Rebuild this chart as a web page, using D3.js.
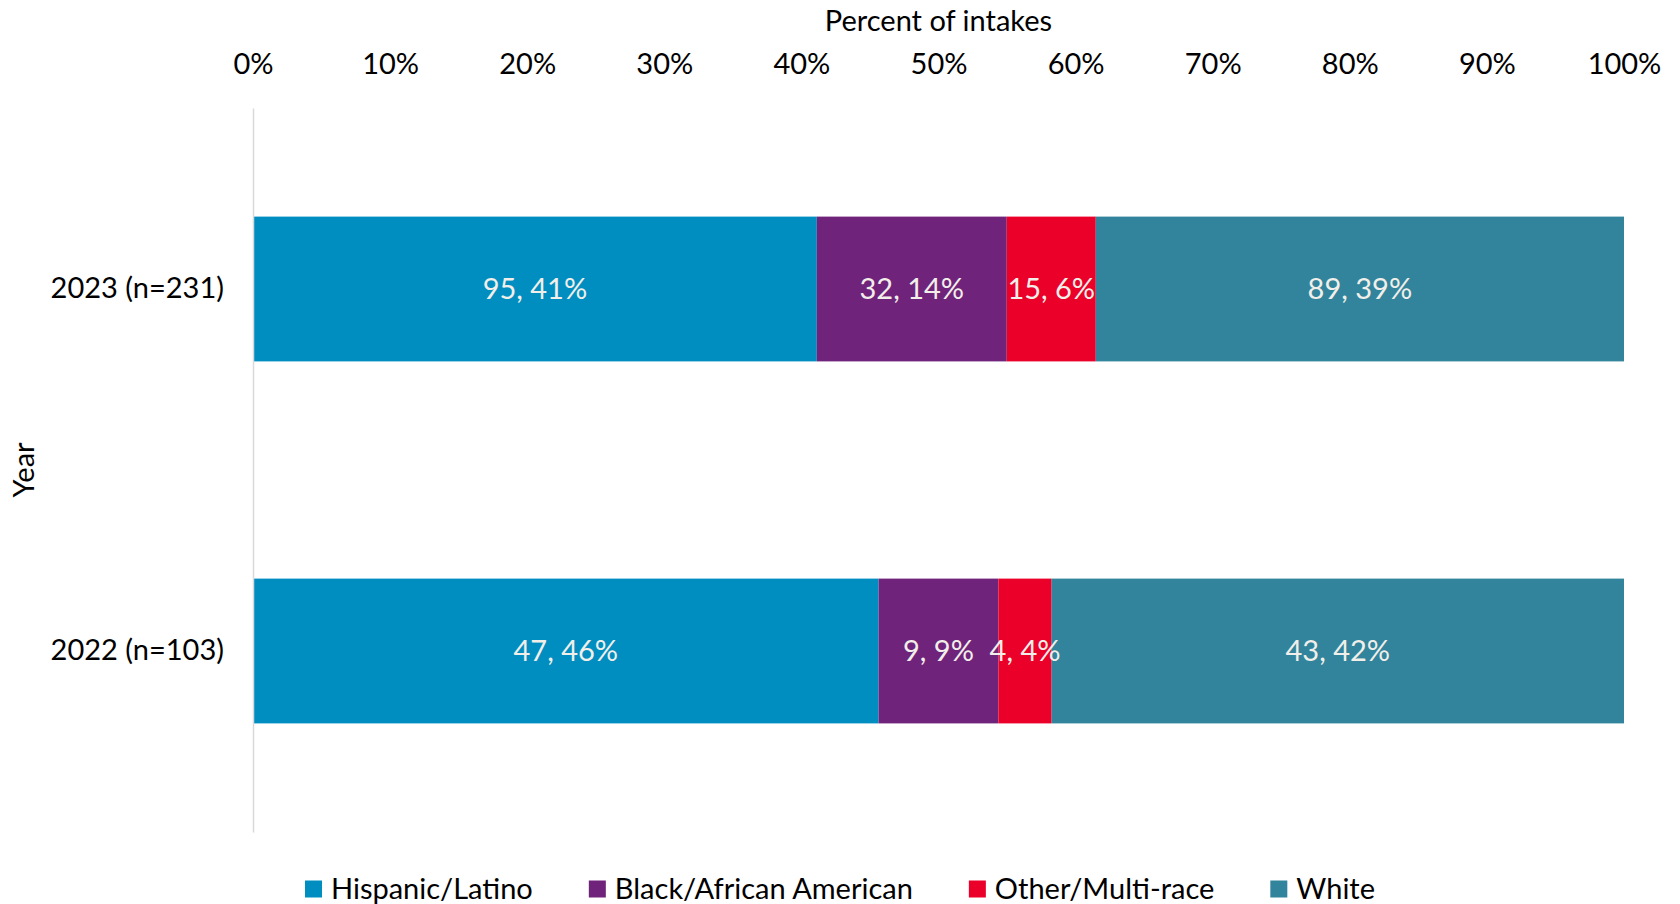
<!DOCTYPE html>
<html>
<head>
<meta charset="utf-8">
<script src="https://cdn.jsdelivr.net/npm/d3@7"></script>
<style>
  html, body { margin: 0; padding: 0; background: #fff; }
  svg { display: block; font-family: Lato, "Open Sans", sans-serif; }
</style>
</head>
<body>
<svg id="chart" width="1680" height="904"></svg>
<script>
// ---- Data ----
const years = ["2023 (n=231)", "2022 (n=103)"];
const seriesNames = ["Hispanic/Latino", "Black/African American", "Other/Multi-race", "White"];
const hispanic = [95, 47];
const black = [32, 9];
const other = [15, 4];
const white = [89, 43];
const colors = ["#008EC0", "#70237A", "#EA0029", "#31849B"];
const xTicks = [0, 0.1, 0.2, 0.3, 0.4, 0.5, 0.6, 0.7, 0.8, 0.9, 1.0];

(function () {
const seriesValues = [hispanic, black, other, white];

// ---- Layout ----
const W = 1680;
const mLeft = 253, mRight = 1624, mTop = 108, mBottom = 832;
const FS = 29;

const svg = d3.select("#chart");

const x = d3.scaleLinear().domain([0, 1]).range([mLeft, mRight]);
const y = d3.scaleBand().domain(years).range([mTop, mBottom]).paddingInner(0.6).paddingOuter(0.3);

// build stacked rows
const rows = years.map((yr, i) => {
  const row = { year: yr };
  let total = 0;
  seriesNames.forEach((s, k) => { row[s] = seriesValues[k][i]; total += seriesValues[k][i]; });
  row.total = total;
  seriesNames.forEach(s => { row[s + "_p"] = row[s] / total; });
  return row;
});

const stacked = d3.stack().keys(seriesNames.map(s => s + "_p"))(rows);

// bars
const g = svg.append("g");
stacked.forEach((layer, k) => {
  g.append("g").attr("fill", colors[k])
    .selectAll("rect").data(layer).join("rect")
    .attr("x", d => x(d[0]))
    .attr("width", d => x(d[1]) - x(d[0]))
    .attr("y", d => y(d.data.year))
    .attr("height", y.bandwidth());
});

// labels
stacked.forEach((layer, k) => {
  const name = seriesNames[k];
  g.append("g").selectAll("text").data(layer).join("text")
    .attr("x", d => (x(d[0]) + x(d[1])) / 2)
    .attr("y", d => y(d.data.year) + y.bandwidth() / 2)
    .attr("dy", "0.36em")
    .attr("text-anchor", "middle")
    .attr("fill", "#F2EFEA")
    .style("font-size", FS + "px")
    .text(d => d.data[name] + ", " + Math.round(d.data[name + "_p"] * 100) + "%");
});

// top axis
const xAxis = d3.axisTop(x).tickValues(xTicks).tickSize(0).tickPadding(0)
  .tickFormat(d3.format(".0%"));
const xa = svg.append("g").attr("transform", "translate(0,64)").call(xAxis);
xa.select(".domain").remove();
xa.selectAll("text").attr("dy", "0.36em").attr("fill", "#000").style("font-size", FS + "px")
  .style("font-family", "Lato, 'Open Sans', sans-serif");

// left axis
const yAxis = d3.axisLeft(y).tickSize(0).tickSizeOuter(0).tickPadding(29);
const ya = svg.append("g").attr("transform", `translate(${mLeft},0)`).call(yAxis);
ya.select(".domain").attr("stroke", "#D9D9D9").attr("stroke-width", 1.5);
ya.selectAll("text").attr("fill", "#000").style("font-size", FS + "px")
  .style("font-family", "Lato, 'Open Sans', sans-serif");

// axis titles
svg.append("text")
  .attr("x", (mLeft + mRight) / 2).attr("y", 21).attr("dy", "0.36em")
  .attr("text-anchor", "middle").attr("fill", "#000").style("font-size", FS + "px")
  .text("Percent of intakes");

svg.append("text")
  .attr("transform", `translate(24,${(mTop + mBottom) / 2}) rotate(-90)`)
  .attr("dy", "0.36em")
  .attr("text-anchor", "middle").attr("fill", "#000").style("font-size", FS + "px")
  .text("Year");

// legend
const legend = svg.append("g");
const sq = 17, gapText = 9, gapItem = 56;
let cx = 0;
seriesNames.forEach((s, k) => {
  const it = legend.append("g").attr("transform", `translate(${cx},0)`);
  it.append("rect").attr("x", 0).attr("y", -sq / 2).attr("width", sq).attr("height", sq).attr("fill", colors[k]);
  const t = it.append("text").attr("x", sq + gapText).attr("dy", "0.36em")
    .attr("fill", "#000").style("font-size", FS + "px").text(s);
  cx += sq + gapText + t.node().getComputedTextLength() + gapItem;
});
const legendW = cx - gapItem;
legend.attr("transform", `translate(${W / 2 - legendW / 2},889)`);
})();
</script>
</body>
</html>
